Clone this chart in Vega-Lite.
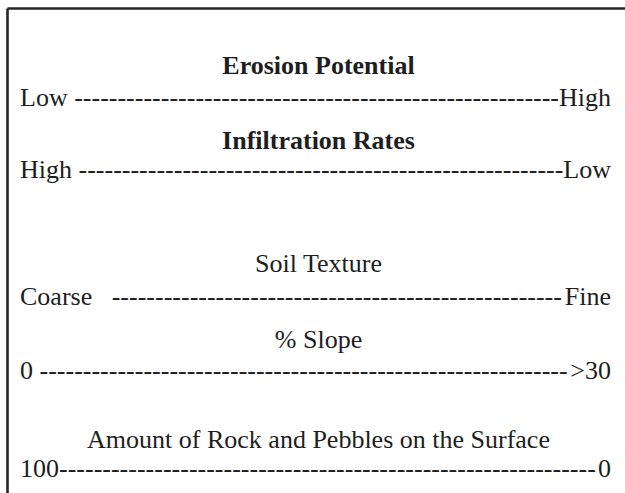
{
  "$schema": "https://vega.github.io/schema/vega-lite/v6.json",
  "width": 618,
  "height": 485,
  "autosize": {"type": "none"},
  "padding": {"left": 7, "top": 8, "right": 0, "bottom": 0},
  "background": "#ffffff",
  "config": {"view": {"stroke": null}},
  "data": {
    "values": [
      {"line": 1, "side": "center", "role": "title", "label": "Erosion Potential"},
      {"line": 2, "side": "left", "role": "scale", "label": "Low --------------------------------------------------------"},
      {"line": 2, "side": "right", "role": "scale", "label": "High"},
      {"line": 3, "side": "center", "role": "title", "label": "Infiltration Rates"},
      {"line": 4, "side": "left", "role": "scale", "label": "High --------------------------------------------------------"},
      {"line": 4, "side": "right", "role": "scale", "label": "Low"},
      {"line": 5, "side": "center", "role": "heading", "label": "Soil Texture"},
      {"line": 6, "side": "left", "role": "scale", "label": "Coarse\u00a0\u00a0\u00a0----------------------------------------------------"},
      {"line": 6, "side": "right", "role": "scale", "label": "Fine"},
      {"line": 7, "side": "center", "role": "heading", "label": "% Slope"},
      {"line": 8, "side": "left", "role": "scale", "label": "0 -------------------------------------------------------------"},
      {"line": 8, "side": "right", "role": "scale", "label": ">30"},
      {"line": 9, "side": "center", "role": "heading", "label": "Amount of Rock and Pebbles on the Surface"},
      {"line": 10, "side": "left", "role": "scale", "label": "100--------------------------------------------------------------"},
      {"line": 10, "side": "right", "role": "scale", "label": "0"}
    ]
  },
  "encoding": {
    "x": {
      "field": "side",
      "type": "nominal",
      "scale": {"type": "point", "domain": ["left", "center", "right"], "padding": 0.0457, "align": 0.4815},
      "axis": {"orient": "top", "labels": false, "ticks": false, "title": null, "grid": false, "domainColor": "#262626", "domainWidth": 2.6}
    },
    "y": {
      "field": "line",
      "type": "quantitative",
      "scale": {"domain": [0, 1, 2, 3, 4, 5, 6, 7, 8, 9, 10, 11], "range": [0, 58, 90, 133, 162, 256, 289, 332, 363, 432, 461, 485], "zero": false, "nice": false},
      "axis": {"orient": "left", "labels": false, "ticks": false, "title": null, "grid": false, "domainColor": "#262626", "domainWidth": 2.6}
    },
    "text": {"field": "label"}
  },
  "layer": [
    {
      "transform": [{"filter": "datum.side == 'left'"}],
      "mark": {"type": "text", "align": "left", "baseline": "middle", "font": "Liberation Serif", "fontSize": 26, "color": "#1e1e1e"}
    },
    {
      "transform": [{"filter": "datum.side == 'right'"}],
      "mark": {"type": "text", "align": "right", "baseline": "middle", "font": "Liberation Serif", "fontSize": 26, "color": "#1e1e1e"}
    },
    {
      "transform": [{"filter": "datum.role == 'heading'"}],
      "mark": {"type": "text", "align": "center", "baseline": "middle", "dx": 3, "font": "Liberation Serif", "fontSize": 26, "color": "#1e1e1e"}
    },
    {
      "transform": [{"filter": "datum.role == 'title'"}],
      "mark": {"type": "text", "align": "center", "baseline": "middle", "dx": 3, "font": "Liberation Serif", "fontSize": 26, "fontWeight": "bold", "color": "#1e1e1e"}
    }
  ]
}
